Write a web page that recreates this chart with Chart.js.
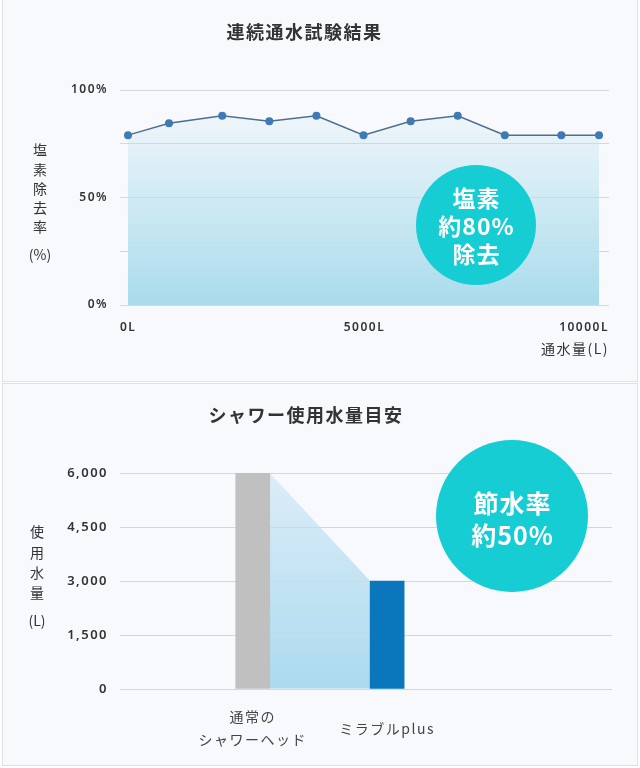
<!DOCTYPE html>
<html><head><meta charset="utf-8">
<script src="https://cdn.jsdelivr.net/npm/chart.js@4.4.1/dist/chart.umd.min.js"></script>
<style>
html,body{margin:0;padding:0;background:#fff;}
body{width:640px;height:768px;position:relative;overflow:hidden;}
.panel{position:absolute;background:#f8f9fc;border:1px solid #dde0e5;box-sizing:border-box;}
.wrap{position:absolute;left:0;width:640px;}
</style></head>
<body>
<div class="panel" style="left:2px;top:-2px;width:636px;height:384px"></div>
<div class="panel" style="left:2px;top:383px;width:636px;height:383px"></div>
<div class="wrap" style="top:0;height:381px"><canvas id="c1"></canvas></div>
<div class="wrap" style="top:383px;height:385px"><canvas id="c2"></canvas></div>
<script>
// ---- Chart 1 data ----
const TITLE_1 = '連続通水試験結果';
const Y_TITLE_1 = ['塩', '素', '除', '去', '率'];
const Y_UNIT_1 = '(%)';
const X_TITLE_1 = '通水量(L)';
const WATER_L = [0, 870, 2000, 3000, 4000, 5000, 6000, 7000, 8000, 9200, 10000];
const REMOVAL_PCT = [79, 84.5, 88, 85.5, 88, 79, 85.5, 88, 79, 79, 79];
const X_TICK_LABELS_1 = ['0L', '5000L', '10000L'];
const Y_TICKS_1 = [0, 25, 50, 75, 100];
const Y_TICK_LABELS_1 = ['0%', '', '50%', '', '100%'];
const BADGE_1 = ['塩素', '約80%', '除去'];

// ---- Chart 2 data ----
const TITLE_2 = 'シャワー使用水量目安';
const Y_TITLE_2 = ['使', '用', '水', '量'];
const Y_UNIT_2 = '(L)';
const CATEGORIES_2 = [['通常の', 'シャワーヘッド'], 'ミラブルplus'];
const USAGE_L = [6000, 3000];
const Y_TICKS_2 = [0, 1500, 3000, 4500, 6000];
const Y_TICK_LABELS_2 = ['0', '1,500', '3,000', '4,500', '6,000'];
const BADGE_2 = ['節水率', '約50%'];

const JP = '"Noto Sans CJK JP", "Noto Sans", sans-serif';
const NUM = '"Noto Sans", "Noto Sans CJK JP", sans-serif';
const SPACING = '1.5px';

const spacingPlugin = {
  id: 'spacing',
  beforeUpdate(c) { c.ctx.letterSpacing = SPACING; },
  beforeDraw(c) { c.ctx.letterSpacing = SPACING; }
};

const stackedTitle = {
  id: 'stackedTitle',
  afterDraw(c, args, o) {
    const ctx = c.ctx;
    ctx.save();
    ctx.letterSpacing = '0px';
    ctx.font = o.font;
    ctx.fillStyle = o.color;
    ctx.textAlign = 'center';
    ctx.textBaseline = 'middle';
    o.lines.forEach((t, i) => ctx.fillText(t, o.x, o.y + i * o.step));
    ctx.fillText(o.unit, o.x, o.unitY);
    ctx.restore();
  }
};

const badge = {
  id: 'badge',
  afterDatasetsDraw(c, args, o) {
    const ctx = c.ctx;
    ctx.save();
    ctx.beginPath();
    ctx.arc(o.x, o.y, o.r, 0, Math.PI * 2);
    ctx.fillStyle = o.color;
    ctx.fill();
    ctx.letterSpacing = '1px';
    ctx.fillStyle = '#ffffff';
    ctx.font = o.font;
    ctx.textAlign = 'center';
    ctx.textBaseline = 'middle';
    const n = o.lines.length;
    o.lines.forEach((t, i) => ctx.fillText(t, o.x + 0.5, o.textY + (i - (n - 1) / 2) * o.step));
    ctx.restore();
  }
};

// trapezoid connecting the two bars, drawn under the grid
const trapezoid = {
  id: 'trapezoid',
  beforeDraw(c, args, o) {
    const meta = c.getDatasetMeta(0);
    if (!meta.data || meta.data.length < 2) return;
    const a = meta.data[0].getProps(['x', 'y', 'base', 'width'], true);
    const b = meta.data[1].getProps(['x', 'y', 'base', 'width'], true);
    const ctx = c.ctx;
    const x1 = a.x + a.width / 2, x2 = b.x - b.width / 2;
    const g = ctx.createLinearGradient(0, a.y, 0, a.base);
    g.addColorStop(0, o.top);
    g.addColorStop(1, o.bottom);
    ctx.save();
    ctx.beginPath();
    ctx.moveTo(x1, a.y);
    ctx.lineTo(x2, b.y);
    ctx.lineTo(x2, b.base);
    ctx.lineTo(x1, a.base);
    ctx.closePath();
    ctx.fillStyle = g;
    ctx.fill();
    ctx.restore();
  }
};

const yGrid = { color: '#d4d8dd', lineWidth: 1, drawTicks: false };

// ---------------- Chart 1 ----------------
new Chart(document.getElementById('c1'), {
  type: 'line',
  data: {
    datasets: [{
      data: WATER_L.map((x, i) => ({ x, y: REMOVAL_PCT[i] })),
      borderColor: '#4b6f8e',
      borderWidth: 1.5,
      pointRadius: 4,
      pointHoverRadius: 4,
      pointBackgroundColor: '#3d7ab6',
      pointBorderColor: '#3d7ab6',
      pointBorderWidth: 0,
      tension: 0,
      fill: 'origin',
      backgroundColor: (ctx) => {
        const area = ctx.chart.chartArea;
        if (!area) return 'rgba(170,220,236,0.5)';
        const g = ctx.chart.ctx.createLinearGradient(0, area.top, 0, area.bottom);
        g.addColorStop(0, 'rgba(170,220,236,0)');
        g.addColorStop(1, 'rgba(168,219,236,1)');
        return g;
      }
    }]
  },
  options: {
    responsive: true,
    maintainAspectRatio: false,
    animation: false,
    layout: { padding: { left: 0, right: 31, top: 0, bottom: 21.6 } },
    scales: {
      x: {
        type: 'linear',
        min: -170,
        max: 10212,
        offset: false,
        grid: { display: false, drawTicks: false },
        border: { display: false },
        afterBuildTicks: (s) => { s.ticks = [s.min, (s.min + s.max) / 2, s.max].map(v => ({ value: v })); },
        ticks: {
          align: 'inner',
          padding: 15,
          color: '#333',
          font: { family: NUM, size: 12, weight: '600' },
          callback: (v, i) => X_TICK_LABELS_1[i]
        },
        title: {
          display: true,
          text: X_TITLE_1,
          align: 'end',
          color: '#333',
          font: { family: JP, size: 14 },
          padding: { top: -8.8, bottom: 2 }
        }
      },
      y: {
        min: 0,
        max: 100,
        grid: yGrid,
        border: { display: false },
        afterFit: (s) => { s.width = 120; },
        afterBuildTicks: (s) => { s.ticks = Y_TICKS_1.map(v => ({ value: v })); },
        ticks: {
          padding: 12,
          color: '#333',
          font: { family: NUM, size: 12, weight: '600' },
          callback: (v, i) => Y_TICK_LABELS_1[i]
        }
      }
    },
    plugins: {
      legend: { display: false },
      tooltip: { enabled: false },
      filler: { drawTime: 'beforeDraw' },
      title: {
        display: true,
        text: TITLE_1,
        color: '#333',
        font: { family: JP, size: 18, weight: 'bold', lineHeight: 1.2 },
        padding: { top: 21, bottom: 47.4 }
      },
      stackedTitle: { lines: Y_TITLE_1, unit: Y_UNIT_1, x: 40, y: 150, step: 19.2, unitY: 255, font: '14px ' + JP, color: '#333' },
      badge: { lines: BADGE_1, x: 476, y: 225, r: 60, textY: 226, step: 28, color: '#17cdd4', font: 'bold 23px ' + JP }
    }
  },
  plugins: [spacingPlugin, stackedTitle, badge]
});

// ---------------- Chart 2 ----------------
const BAR_SLOTS = [3, 6];
new Chart(document.getElementById('c2'), {
  type: 'bar',
  data: {
    datasets: [{
      data: USAGE_L.map((y, i) => ({ x: BAR_SLOTS[i], y })),
      backgroundColor: ['#c0c0c0', '#0a77bd'],
      borderWidth: 0,
      barThickness: 34
    }]
  },
  options: {
    responsive: true,
    maintainAspectRatio: false,
    animation: false,
    layout: { padding: { left: 0, right: 28, top: 0, bottom: -21.8 } },
    scales: {
      x: {
        type: 'linear',
        min: 0.036,
        max: 11.02,
        offset: false,
        grid: { display: false, drawTicks: false, offset: false },
        border: { display: false },
        afterBuildTicks: (s) => { s.ticks = BAR_SLOTS.map(v => ({ value: v })); },
        ticks: {
          padding: 28,
          crossAlign: 'center',
          color: '#444',
          font: { family: JP, size: 14, lineHeight: 1.6 },
          callback: (v, i) => CATEGORIES_2[i]
        }
      },
      y: {
        min: 0,
        max: 6000,
        grid: yGrid,
        border: { display: false },
        afterFit: (s) => { s.width = 120; },
        afterBuildTicks: (s) => { s.ticks = Y_TICKS_2.map(v => ({ value: v })); },
        ticks: {
          padding: 12,
          color: '#333',
          font: { family: NUM, size: 13, weight: '600' },
          callback: (v, i) => Y_TICK_LABELS_2[i]
        }
      }
    },
    plugins: {
      legend: { display: false },
      tooltip: { enabled: false },
      title: {
        display: true,
        text: TITLE_2,
        color: '#333',
        font: { family: JP, size: 18, weight: 'bold', lineHeight: 1.2 },
        padding: { top: 21, bottom: 47.4 }
      },
      trapezoid: { top: '#dcedf8', bottom: '#acdaee' },
      stackedTitle: { lines: Y_TITLE_2, unit: Y_UNIT_2, x: 37, y: 149, step: 20.3, unitY: 238, font: '14px ' + JP, color: '#333' },
      badge: { lines: BADGE_2, x: 512, y: 133, r: 76, textY: 136, step: 32, color: '#17cdd4', font: 'bold 25px ' + JP }
    }
  },
  plugins: [spacingPlugin, trapezoid, stackedTitle, badge]
});
</script>
</body></html>
